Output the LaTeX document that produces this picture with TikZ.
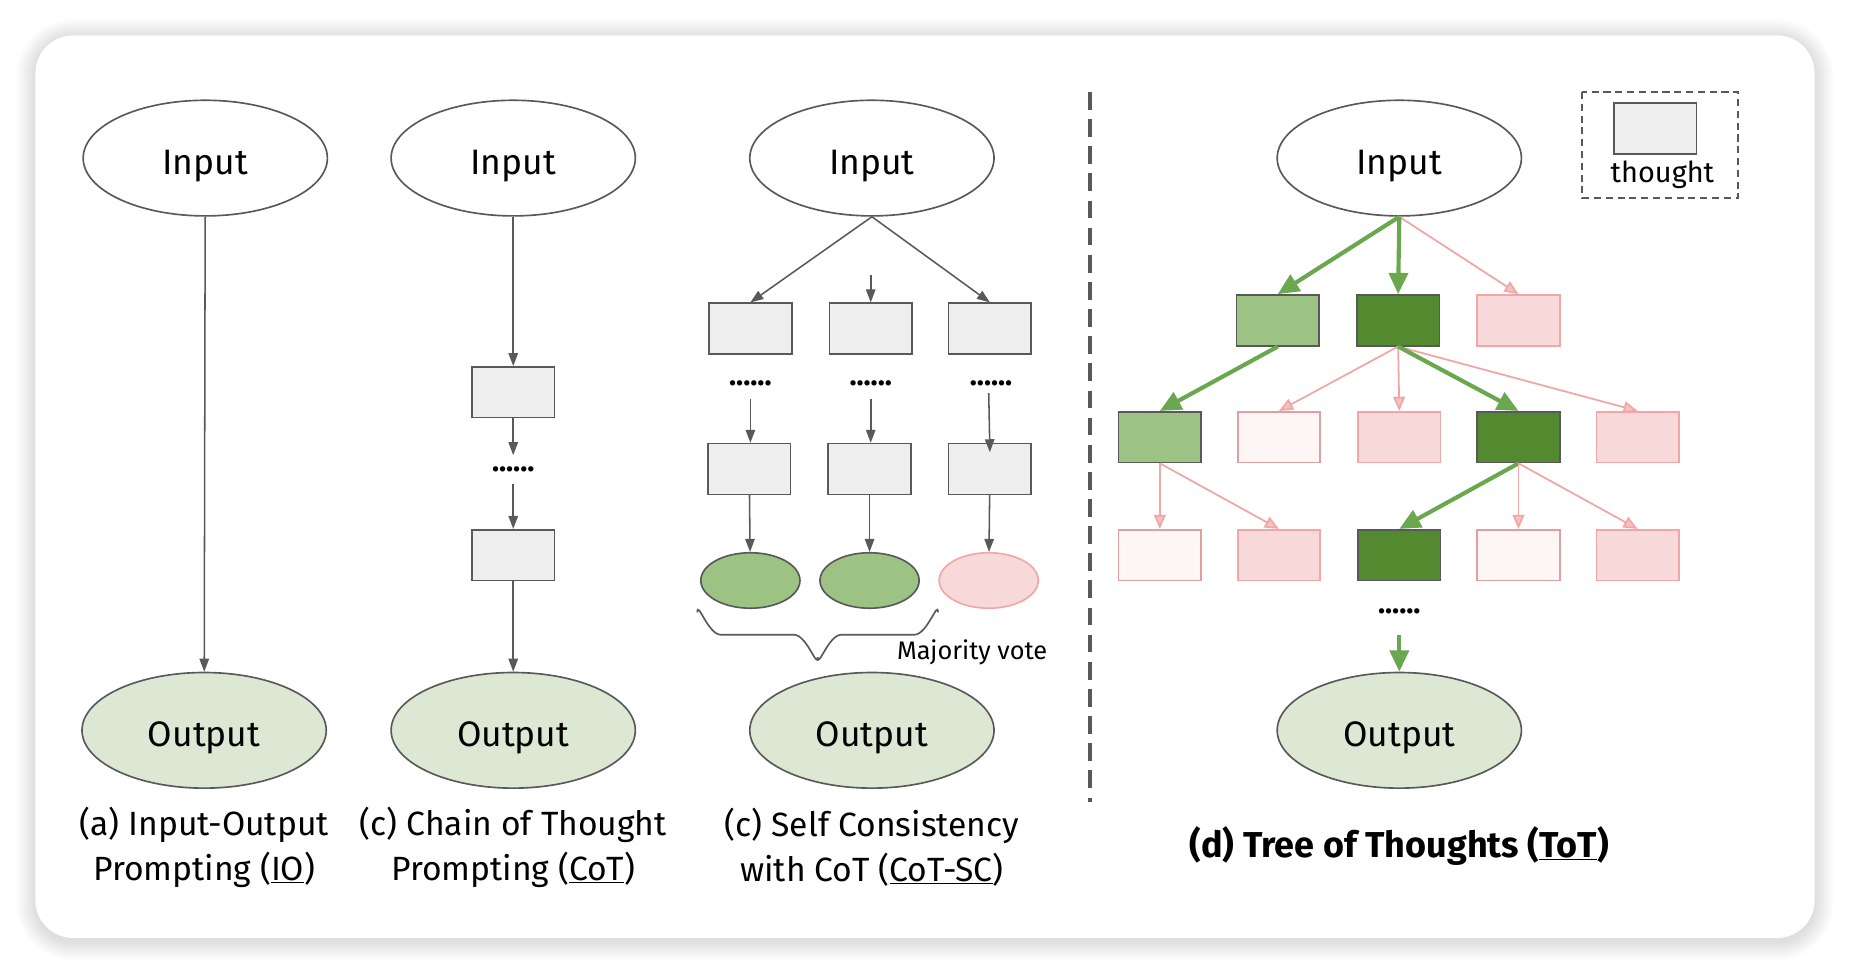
\documentclass[tikz,border=0pt]{standalone}
\usepackage{fontspec}
\setmainfont{Fira Sans}
\usetikzlibrary{arrows.meta,shapes.geometric}
\definecolor{edgec}{HTML}{595959}
\definecolor{thgray}{HTML}{EEEEEE}
\definecolor{outgreen}{HTML}{DDE8D4}
\definecolor{lgreen}{HTML}{9DC384}
\definecolor{dgreen}{HTML}{548A2F}
\definecolor{pinkfill}{HTML}{F8D9D9}
\definecolor{pinkline}{HTML}{F1A7A7}
\definecolor{palefill}{HTML}{FEF6F5}
\definecolor{paleline}{HTML}{E0A0A0}
\definecolor{garrowc}{HTML}{6AA84F}
\tikzset{
  bigell/.style={ellipse, draw=edgec, line width=1.4pt, minimum width=207pt, minimum height=98pt, inner sep=0pt, text height=28pt, text depth=0pt, font=\fontsize{30}{30}\selectfont},
  inell/.style={bigell, fill=white},
  outell/.style={bigell, fill=outgreen},
  smallell/.style={ellipse, draw=edgec, line width=1.4pt, minimum width=84pt, minimum height=47pt, inner sep=0pt},
  tbox/.style={rectangle, draw=edgec, fill=thgray, line width=1.4pt, minimum width=70pt, minimum height=43pt, inner sep=0pt},
  lgbox/.style={tbox, fill=lgreen},
  dgbox/.style={tbox, fill=dgreen},
  pkbox/.style={tbox, draw=pinkline, fill=pinkfill},
  plbox/.style={tbox, draw=paleline, fill=palefill},
  dotsnode/.style={rectangle, inner sep=0pt, font=\fontsize{25}{25}\selectfont\bfseries},
  grarr/.style={draw=edgec, line width=1.3pt, -{Triangle[length=11pt,width=8pt]}},
  gnarr/.style={draw=garrowc, line width=3.5pt, -{Triangle[length=18pt,width=16pt]}},
  pkarr/.style={draw=pinkline, line width=1.5pt, -{Triangle[length=12pt,width=10pt,fill=pinkline!70]}},
  caption/.style={align=center, font=\fontsize{28.5}{38}\selectfont}
}
\begin{document}
\begin{tikzpicture}[x=1pt,y=-1pt]
\fill[white] (0,0) rectangle (1568,826);
\useasboundingbox (0,0) rectangle (1568,826);
% shadow
\foreach \i in {1,...,16} {
  \fill[black, opacity=0.009, rounded corners={32+\i}] (30-\i,32-\i) rectangle (1538+\i,798+\i);
}
\fill[white, rounded corners=32] (30,30) rectangle (1538,795);

% ---------- panel a ----------
\node[inell] (inA) at (174,134) {Input};
\node[outell] (outA) at (173,619) {Output};
\draw[grarr] (inA) -- (outA);
\node[caption] (capA) at (173,718) {(a) Input-Output\\Prompting (\underline{IO})};

% ---------- panel b ----------
\node[inell] (inB) at (435,134) {Input};
\node[tbox] (b1) at (435,332.5) {};
\node[dotsnode, minimum height=24pt] (bd) at (435,398) {......};
\node[tbox] (b2) at (435,470.5) {};
\node[outell] (outB) at (435,619) {Output};
\draw[grarr] (inB) -- (b1);
\draw[grarr] (b1) -- (bd);
\draw[grarr] (bd) -- (b2);
\draw[grarr] (b2) -- (outB);
\node[caption] (capB) at (435,718) {(c) Chain of Thought\\Prompting (\underline{CoT})};

% ---------- panel c ----------
\node[inell] (inC) at (739,134) {Input};
\node[tbox] (c11) at (636,278.5) {};
\node[tbox] (c12) at (738,278.5) {};
\node[tbox] (c13) at (839,278.5) {};
\node[dotsnode, minimum height=26pt] (cd1) at (636,325) {......};
\node[dotsnode, minimum height=26pt] (cd2) at (738,325) {......};
\node[dotsnode, minimum height=16pt] (cd3) at (840,325) {......};
\node[tbox] (c21) at (635,397.5) {};
\node[tbox] (c22) at (737,397.5) {};
\node[tbox] (c23) at (839,397.5) {};
\node[smallell, fill=lgreen] (e1) at (636,492) {};
\node[smallell, fill=lgreen] (e2) at (737,492) {};
\node[smallell, draw=pinkline, fill=pinkfill] (e3) at (838,492) {};
\node[outell] (outC) at (739,619) {Output};
\coordinate (cmid) at (738,233);
\draw[grarr] (inC.south) -- (c11.north);
\draw[grarr] (cmid) -- (c12.north);
\draw[grarr] (inC.south) -- (c13.north);
\draw[grarr] (cd1.south) -- (c21.north -| cd1.south);
\draw[grarr] (cd2.south) -- (c22.north -| cd2.south);
\draw[grarr] ([xshift=-2pt]cd3.south) -- ([yshift=-8pt]c23.north);
\draw[grarr] (c21) -- (e1);
\draw[grarr] (c22) -- (e2);
\draw[grarr] (c23) -- (e3);
\draw[edgec, line width=1.4pt] (591,519) to[out=90,in=180] (611,538) -- (673,538) to[out=0,in=-90] (693,557);
\draw[edgec, line width=1.4pt] (795,519) to[out=90,in=0] (775,538) -- (713,538) to[out=180,in=-90] (693,557);
\node[font=\fontsize{21.5}{21.5}\selectfont] (mv) at (824,553) {Majority vote};
\node[caption] (capC) at (739,718) {(c) Self Consistency\\with CoT (\underline{CoT-SC})};

% ---------- separator ----------
\coordinate (sepT) at (924,78);
\coordinate (sepB) at (924,680);
\draw[edgec, line width=3pt, dash pattern=on 15pt off 8pt] (sepT) -- (sepB);

% ---------- panel d ----------
\node[inell] (inD) at (1186,134) {Input};
\node[lgbox] (d1a) at (1083,271.5) {};
\node[dgbox] (d1b) at (1185,271.5) {};
\node[pkbox] (d1c) at (1287,271.5) {};
\node[lgbox] (d2a) at (983,370.5) {};
\node[plbox] (d2b) at (1084,370.5) {};
\node[pkbox] (d2c) at (1186,370.5) {};
\node[dgbox] (d2d) at (1287,370.5) {};
\node[pkbox] (d2e) at (1388,370.5) {};
\node[plbox] (d3a) at (983,470.5) {};
\node[pkbox] (d3b) at (1084,470.5) {};
\node[dgbox] (d3c) at (1186,470.5) {};
\node[plbox] (d3d) at (1287,470.5) {};
\node[pkbox] (d3e) at (1388,470.5) {};
\node[dotsnode, minimum height=40pt] (dd) at (1186,518) {......};
\node[outell] (outD) at (1186,619) {Output};

\draw[pkarr] (inD.south) -- (d1c.north);
\draw[gnarr] (inD.south) -- (d1a.north);
\draw[gnarr] (inD.south) -- (d1b.north);
\draw[gnarr] (d1a.south) -- (d2a.north);
\draw[pkarr] (d1b.south) -- (d2b.north);
\draw[pkarr] (d1b.south) -- (d2c.north);
\draw[pkarr] (d1b.south) -- (d2e.north);
\draw[gnarr] (d1b.south) -- (d2d.north);
\draw[pkarr] (d2a.south) -- (d3a.north);
\draw[pkarr] (d2a.south) -- (d3b.north);
\draw[gnarr] (d2d.south) -- (d3c.north);
\draw[pkarr] (d2d.south) -- (d3d.north);
\draw[pkarr] (d2d.south) -- (d3e.north);
\draw[gnarr] (dd.south) -- (outD.north);
\node[caption, font=\fontsize{30.5}{38}\selectfont\bfseries] (capD) at (1186,717) {(d) Tree of Thoughts (\underline{ToT})};

% legend
\draw[edgec, line width=1.5pt, dash pattern=on 6pt off 4pt] (1341,78) rectangle (1473,168);
\node[tbox] (lgt) at (1403,109) {};
\node[font=\fontsize{24.5}{24.5}\selectfont] (lgtxt) at (1409,148) {thought};
\end{tikzpicture}
\end{document}
